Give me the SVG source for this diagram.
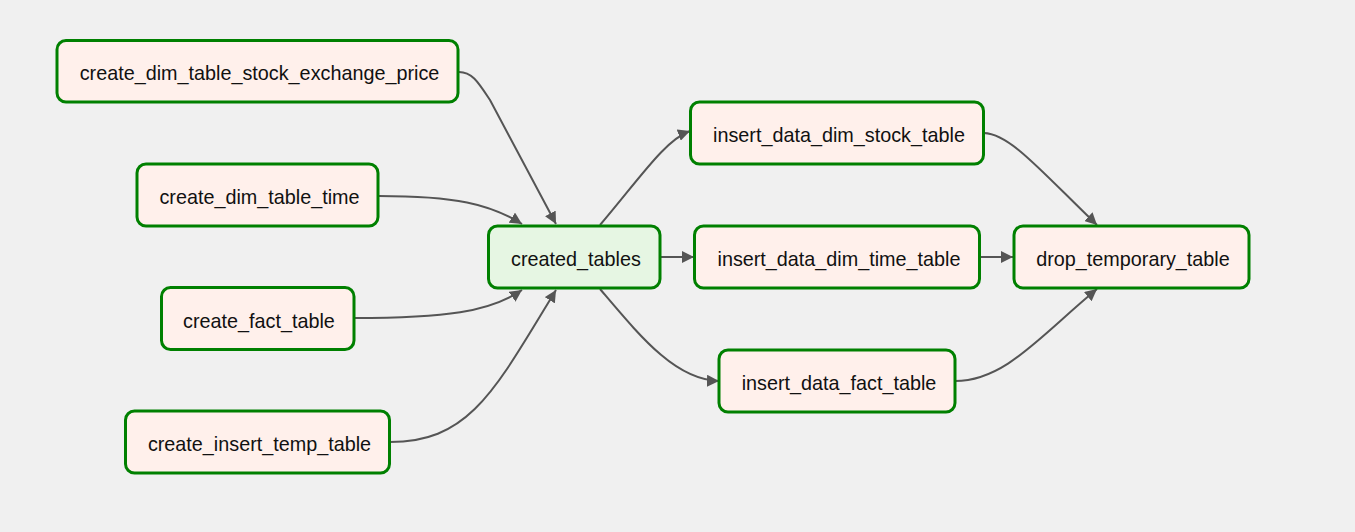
<svg xmlns="http://www.w3.org/2000/svg" width="1355" height="532" viewBox="0 0 1355 532">
<style>
.n rect{fill:#fff0eb;stroke:#008000;stroke-width:3}
.n.g rect{fill:#e6f6e3}
.n text{font-family:"Liberation Sans",Arial,sans-serif;font-size:19.8px;fill:#111;text-anchor:middle}
.e path{fill:none;stroke:#555;stroke-width:2}
</style>
<defs>
<marker id="ah" markerUnits="userSpaceOnUse" markerWidth="12" markerHeight="12" refX="10" refY="5" orient="auto" viewBox="0 0 10 10">
<path d="M0,0 L10,5 L0,10 z" fill="#555"/>
</marker>
</defs>
<rect x="0" y="0" width="1355" height="532" fill="#f0f0f0"/>
<g class="e" id="edges">
<path marker-end="url(#ah)" d="M459,72 C472,72 478,82 490,100 L556,224"/>
<path marker-end="url(#ah)" d="M379,196 C455,196 490,204 522,224"/>
<path marker-end="url(#ah)" d="M354,318 C445,318 490,312 522,290"/>
<path marker-end="url(#ah)" d="M390,442 C470,442 495,390 556,290"/>
<path marker-end="url(#ah)" d="M600,225 C640,178 665,140 690,131"/>
<path marker-end="url(#ah)" d="M660,257 L694,257"/>
<path marker-end="url(#ah)" d="M600,289 C640,336 675,380 719,381"/>
<path marker-end="url(#ah)" d="M984,133 C1010,134 1040,170 1097,225"/>
<path marker-end="url(#ah)" d="M980,257 L1013,257"/>
<path marker-end="url(#ah)" d="M955,381 C1005,381 1040,336 1097,289"/>
</g>
<g class="n" id="create_dim_table_stock_exchange_price"><rect x="57" y="40.5" width="401" height="61.5" rx="9"/><text x="259.5" y="80">create_dim_table_stock_exchange_price</text></g>
<g class="n" id="create_dim_table_time"><rect x="137" y="164" width="241" height="62" rx="9"/><text x="259.5" y="204">create_dim_table_time</text></g>
<g class="n" id="create_fact_table"><rect x="161.5" y="287.5" width="192.5" height="62" rx="9"/><text x="259" y="328">create_fact_table</text></g>
<g class="n" id="create_insert_temp_table"><rect x="125.5" y="411" width="264" height="62" rx="9"/><text x="259.5" y="451">create_insert_temp_table</text></g>
<g class="n g" id="created_tables"><rect x="488.5" y="226" width="171.5" height="62" rx="9"/><text x="576" y="266">created_tables</text></g>
<g class="n" id="insert_data_dim_stock_table"><rect x="690.5" y="102" width="293" height="62" rx="9"/><text x="839" y="142">insert_data_dim_stock_table</text></g>
<g class="n" id="insert_data_dim_time_table"><rect x="694.5" y="226" width="285" height="62" rx="9"/><text x="839" y="266">insert_data_dim_time_table</text></g>
<g class="n" id="insert_data_fact_table"><rect x="719" y="350" width="236" height="62" rx="9"/><text x="839" y="390">insert_data_fact_table</text></g>
<g class="n" id="drop_temporary_table"><rect x="1014" y="226" width="235" height="62" rx="9"/><text x="1133" y="266">drop_temporary_table</text></g>
</svg>
